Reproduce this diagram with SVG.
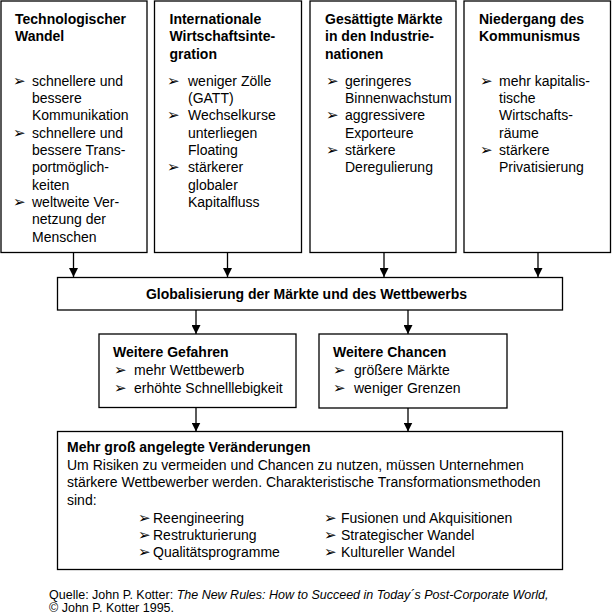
<svg xmlns="http://www.w3.org/2000/svg" width="612" height="615" viewBox="0 0 612 615">
<style>
text{font-family:"Liberation Sans",Arial,sans-serif;font-size:14px;fill:#000}
.b{font-weight:bold}
.bl{font-family:"DejaVu Sans",sans-serif;font-size:15px}
.box{fill:#fff;stroke:#000;stroke-width:1.3}
.ln{stroke:#000;stroke-width:1.3;fill:none}
.fn{font-size:12.5px}
.it{font-style:italic}
</style>
<defs>
<marker id="ah" viewBox="0 0 10 10" refX="10" refY="5" markerWidth="9" markerHeight="9" markerUnits="userSpaceOnUse" orient="auto">
<path d="M0,0 L10,5 L0,10 Z" fill="#000"/>
</marker>
</defs>
<rect width="612" height="615" fill="#fff"/>

<g id="connectors">
<line class="ln" x1="73.5" y1="252.5" x2="73.5" y2="277" marker-end="url(#ah)"/>
<line class="ln" x1="227.5" y1="252.5" x2="227.5" y2="277" marker-end="url(#ah)"/>
<line class="ln" x1="384" y1="252.5" x2="384" y2="277" marker-end="url(#ah)"/>
<line class="ln" x1="538" y1="252.5" x2="538" y2="277" marker-end="url(#ah)"/>
<line class="ln" x1="196" y1="310" x2="196" y2="334" marker-end="url(#ah)"/>
<line class="ln" x1="408" y1="310" x2="408" y2="334" marker-end="url(#ah)"/>
<line class="ln" x1="196" y1="407.5" x2="196" y2="431.5" marker-end="url(#ah)"/>
<line class="ln" x1="408" y1="408" x2="408" y2="431.5" marker-end="url(#ah)"/>
</g>

<g id="tech">
<rect class="box" x="1" y="1" width="146" height="251.5"/>
<text class="b" x="15" y="24">Technologischer</text>
<text class="b" x="15" y="41.3">Wandel</text>
<text class="bl" x="13" y="85.5">➢</text><text x="32" y="85.5">schnellere und</text>
<text x="32" y="102.8">bessere</text>
<text x="32" y="120.2">Kommunikation</text>
<text class="bl" x="13" y="137.5">➢</text><text x="32" y="137.5">schnellere und</text>
<text x="32" y="154.9">bessere Trans-</text>
<text x="32" y="172.2">portmöglich-</text>
<text x="32" y="189.6">keiten</text>
<text class="bl" x="13" y="206.9">➢</text><text x="32" y="206.9">weltweite Ver-</text>
<text x="32" y="224.3">netzung der</text>
<text x="32" y="241.6">Menschen</text>
</g>

<g id="intl">
<rect class="box" x="154.5" y="1" width="147" height="251.5"/>
<text class="b" x="169.5" y="24">Internationale</text>
<text class="b" x="169.5" y="41.3">Wirtschaftsinte-</text>
<text class="b" x="169.5" y="58.6">gration</text>
<text class="bl" x="167" y="85.5">➢</text><text x="188" y="85.5">weniger Zölle</text>
<text x="188" y="102.8">(GATT)</text>
<text class="bl" x="167" y="120.2">➢</text><text x="188" y="120.2">Wechselkurse</text>
<text x="188" y="137.5">unterliegen</text>
<text x="188" y="154.9">Floating</text>
<text class="bl" x="167" y="172.2">➢</text><text x="188" y="172.2">stärkerer</text>
<text x="188" y="189.6">globaler</text>
<text x="188" y="206.9">Kapitalfluss</text>
</g>

<g id="markets">
<rect class="box" x="310" y="1" width="146" height="251.5"/>
<text class="b" x="325" y="24">Gesättigte Märkte</text>
<text class="b" x="325" y="41.3">in den Industrie-</text>
<text class="b" x="325" y="58.6">nationen</text>
<text class="bl" x="326" y="85.5">➢</text><text x="345" y="85.5">geringeres</text>
<text x="345" y="102.8">Binnenwachstum</text>
<text class="bl" x="326" y="120.2">➢</text><text x="345" y="120.2">aggressivere</text>
<text x="345" y="137.5">Exporteure</text>
<text class="bl" x="326" y="154.9">➢</text><text x="345" y="154.9">stärkere</text>
<text x="345" y="172.2">Deregulierung</text>
</g>

<g id="communism">
<rect class="box" x="464" y="1" width="146.5" height="251.5"/>
<text class="b" x="479" y="24">Niedergang des</text>
<text class="b" x="479" y="41.3">Kommunismus</text>
<text class="bl" x="480" y="85.5">➢</text><text x="499" y="85.5">mehr kapitalis-</text>
<text x="499" y="102.8">tische</text>
<text x="499" y="120.2">Wirtschafts-</text>
<text x="499" y="137.5">räume</text>
<text class="bl" x="480" y="154.9">➢</text><text x="499" y="154.9">stärkere</text>
<text x="499" y="172.2">Privatisierung</text>
</g>

<g id="global">
<rect class="box" x="57.5" y="277.5" width="505" height="32.5"/>
<text class="b" x="306.5" y="299" text-anchor="middle">Globalisierung der Märkte und des Wettbewerbs</text>
</g>

<g id="dangers">
<rect class="box" x="99" y="334" width="197" height="73.5"/>
<text class="b" x="113" y="357">Weitere Gefahren</text>
<text class="bl" x="114" y="375">➢</text><text x="134" y="375">mehr Wettbewerb</text>
<text class="bl" x="114" y="392.5">➢</text><text x="134" y="392.5">erhöhte Schnelllebigkeit</text>
</g>

<g id="chances">
<rect class="box" x="319" y="334" width="188" height="74"/>
<text class="b" x="333" y="357">Weitere Chancen</text>
<text class="bl" x="333" y="375">➢</text><text x="354" y="375">größere Märkte</text>
<text class="bl" x="333" y="392.5">➢</text><text x="354" y="392.5">weniger Grenzen</text>
</g>

<g id="changes">
<rect class="box" x="57.5" y="431.5" width="505" height="138"/>
<text class="b" x="67" y="452">Mehr groß angelegte Veränderungen</text>
<text x="67" y="470">Um Risiken zu vermeiden und Chancen zu nutzen, müssen Unternehmen</text>
<text x="67" y="487.3">stärkere Wettbewerber werden. Charakteristische Transformationsmethoden</text>
<text x="67" y="504.7">sind:</text>
<text class="bl" x="138" y="522.5">➢</text><text x="153" y="522.5">Reengineering</text>
<text class="bl" x="138" y="539.6">➢</text><text x="153" y="539.6">Restrukturierung</text>
<text class="bl" x="138" y="556.7">➢</text><text x="153" y="556.7">Qualitätsprogramme</text>
<text class="bl" x="324" y="522.5">➢</text><text x="341" y="522.5">Fusionen und Akquisitionen</text>
<text class="bl" x="324" y="539.6">➢</text><text x="341" y="539.6">Strategischer Wandel</text>
<text class="bl" x="324" y="556.7">➢</text><text x="341" y="556.7">Kultureller Wandel</text>
</g>

<g id="footnote">
<text class="fn" x="49" y="598.5">Quelle: John P. Kotter: <tspan class="it">The New Rules: How to Succeed in Today´s Post-Corporate World,</tspan></text>
<text class="fn" x="49" y="612">© John P. Kotter 1995.</text>
</g>
</svg>
